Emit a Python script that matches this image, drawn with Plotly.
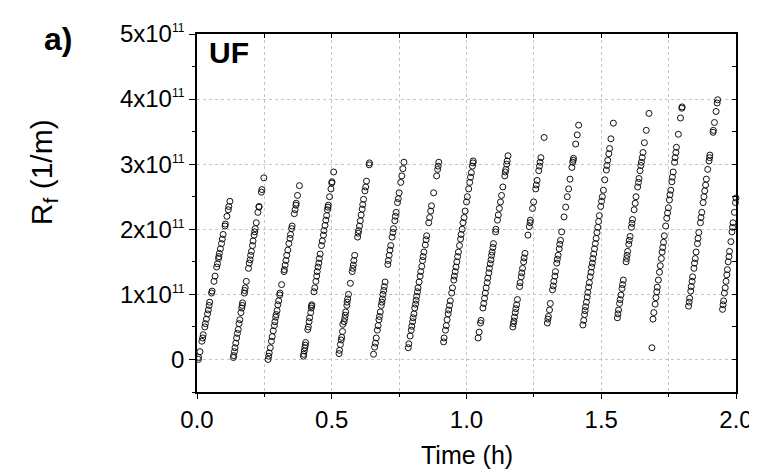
import plotly.graph_objects as go

# ---- data: filtration cycles, time (h) and Rf (units of 1e11 1/m) ----
t01 = [0.005,0.006,0.011,0.018,0.021,0.023,0.029,0.031,0.035,0.039,0.042,0.045,0.047,0.054,0.056,0.063,0.067,0.073,0.076,0.080,0.081,0.083,0.087,0.091,0.094,0.097,0.104,0.105,0.111,0.116,0.118,0.122]
rf01 = [0.00,0.03,0.12,0.28,0.33,0.38,0.50,0.55,0.62,0.70,0.76,0.83,0.88,1.02,1.05,1.20,1.28,1.42,1.47,1.55,1.58,1.63,1.70,1.78,1.85,1.92,2.05,2.08,2.20,2.30,2.35,2.43]
t02 = [0.135,0.136,0.139,0.141,0.144,0.147,0.150,0.153,0.156,0.159,0.163,0.166,0.168,0.169,0.176,0.177,0.179,0.183,0.191,0.194,0.197,0.199,0.202,0.206,0.208,0.212,0.214,0.216,0.220,0.226,0.230,0.230,0.239,0.241,0.248]
rf02 = [0.03,0.06,0.12,0.18,0.25,0.33,0.40,0.46,0.55,0.61,0.72,0.79,0.83,0.87,1.02,1.06,1.10,1.20,1.40,1.48,1.53,1.60,1.66,1.75,1.82,1.91,1.96,2.01,2.10,2.26,2.34,2.35,2.57,2.61,2.79]
t03 = [0.264,0.266,0.268,0.272,0.276,0.279,0.283,0.287,0.289,0.292,0.294,0.297,0.300,0.303,0.307,0.308,0.314,0.323,0.324,0.327,0.330,0.333,0.337,0.341,0.345,0.347,0.351,0.353,0.361,0.364,0.367,0.368,0.373,0.380]
rf03 = [0.00,0.05,0.10,0.18,0.28,0.35,0.44,0.52,0.58,0.65,0.69,0.75,0.84,0.90,0.99,1.02,1.15,1.35,1.38,1.45,1.52,1.60,1.68,1.78,1.86,1.92,2.01,2.05,2.24,2.30,2.37,2.40,2.52,2.67]
t04 = [0.395,0.396,0.398,0.400,0.402,0.403,0.411,0.413,0.416,0.418,0.422,0.424,0.425,0.426,0.434,0.437,0.441,0.444,0.446,0.449,0.452,0.454,0.457,0.462,0.465,0.469,0.471,0.475,0.478,0.481,0.484,0.486,0.487,0.492,0.497,0.500,0.501,0.507]
rf04 = [0.05,0.08,0.13,0.18,0.22,0.26,0.46,0.50,0.58,0.64,0.72,0.79,0.82,0.84,1.04,1.10,1.20,1.28,1.35,1.42,1.48,1.55,1.62,1.75,1.82,1.91,1.98,2.06,2.14,2.21,2.30,2.34,2.37,2.50,2.62,2.71,2.73,2.88]
t05 = [0.527,0.529,0.532,0.535,0.537,0.540,0.541,0.546,0.548,0.550,0.552,0.556,0.557,0.559,0.562,0.569,0.576,0.578,0.580,0.582,0.585,0.596,0.598,0.600,0.603,0.606,0.609,0.613,0.615,0.618,0.623,0.626,0.629,0.639,0.640]
rf05 = [0.09,0.14,0.23,0.30,0.34,0.43,0.54,0.58,0.63,0.68,0.73,0.83,0.88,0.93,1.00,1.17,1.35,1.40,1.45,1.52,1.60,1.88,1.94,1.98,2.05,2.13,2.22,2.31,2.38,2.46,2.59,2.65,2.74,2.99,3.02]
t06 = [0.655,0.659,0.662,0.665,0.669,0.672,0.675,0.677,0.680,0.684,0.686,0.688,0.690,0.693,0.695,0.698,0.708,0.710,0.713,0.716,0.719,0.724,0.727,0.729,0.734,0.736,0.739,0.744,0.747,0.750,0.756,0.760,0.764,0.768]
rf06 = [0.08,0.19,0.25,0.33,0.45,0.52,0.61,0.66,0.73,0.83,0.88,0.93,1.00,1.06,1.12,1.19,1.46,1.52,1.60,1.68,1.75,1.88,1.95,2.01,2.13,2.20,2.26,2.41,2.47,2.56,2.72,2.82,2.93,3.03]
t07 = [0.784,0.786,0.791,0.795,0.797,0.800,0.802,0.805,0.808,0.811,0.813,0.815,0.818,0.820,0.824,0.828,0.830,0.834,0.837,0.839,0.842,0.847,0.850,0.852,0.860,0.863,0.867,0.870,0.878,0.889,0.893,0.895,0.897]
rf07 = [0.18,0.24,0.36,0.45,0.51,0.58,0.64,0.70,0.79,0.85,0.91,0.97,1.04,1.10,1.19,1.28,1.35,1.43,1.52,1.58,1.65,1.76,1.84,1.90,2.10,2.18,2.28,2.36,2.56,2.82,2.92,2.97,3.03]
t08 = [0.915,0.917,0.922,0.925,0.928,0.932,0.934,0.937,0.940,0.945,0.948,0.953,0.955,0.958,0.961,0.964,0.967,0.970,0.974,0.978,0.980,0.984,0.987,0.991,0.995,1.000,1.003,1.008,1.012,1.015,1.018,1.022,1.024,1.025]
rf08 = [0.27,0.33,0.45,0.52,0.61,0.70,0.76,0.83,0.90,1.02,1.10,1.22,1.28,1.35,1.42,1.50,1.58,1.65,1.75,1.85,1.92,2.00,2.10,2.18,2.28,2.42,2.50,2.62,2.72,2.80,2.87,2.97,3.02,3.05]
t09 = [1.043,1.047,1.052,1.054,1.061,1.064,1.067,1.070,1.073,1.077,1.079,1.083,1.085,1.088,1.091,1.093,1.095,1.098,1.100,1.108,1.109,1.115,1.118,1.122,1.126,1.130,1.135,1.142,1.144,1.146,1.149,1.151,1.154]
rf09 = [0.33,0.42,0.56,0.60,0.79,0.86,0.94,1.02,1.10,1.18,1.25,1.33,1.40,1.47,1.53,1.60,1.65,1.72,1.78,1.96,2.00,2.14,2.22,2.32,2.42,2.52,2.65,2.82,2.88,2.92,3.00,3.05,3.13]
t10 = [1.172,1.174,1.176,1.178,1.181,1.183,1.186,1.189,1.197,1.199,1.203,1.205,1.208,1.212,1.214,1.217,1.228,1.233,1.236,1.237,1.245,1.249,1.257,1.259,1.262,1.268,1.271,1.273,1.276,1.288]
rf10 = [0.50,0.55,0.59,0.65,0.72,0.78,0.84,0.92,1.12,1.18,1.27,1.33,1.40,1.50,1.56,1.63,1.91,2.04,2.10,2.14,2.32,2.42,2.62,2.68,2.75,2.90,2.97,3.03,3.10,3.41]
t11 = [1.300,1.302,1.304,1.308,1.311,1.319,1.322,1.324,1.328,1.330,1.335,1.337,1.340,1.344,1.346,1.349,1.353,1.362,1.368,1.374,1.379,1.384,1.391,1.394,1.396,1.397,1.405,1.411,1.416]
rf11 = [0.56,0.62,0.66,0.76,0.86,1.07,1.13,1.20,1.28,1.35,1.48,1.54,1.60,1.70,1.77,1.83,1.96,2.19,2.34,2.50,2.62,2.77,2.95,3.03,3.06,3.09,3.31,3.45,3.60]
t12 = [1.432,1.435,1.438,1.440,1.442,1.445,1.448,1.450,1.453,1.456,1.459,1.462,1.464,1.467,1.469,1.472,1.475,1.478,1.481,1.484,1.487,1.490,1.493,1.498,1.501,1.504,1.508,1.513,1.519,1.521,1.524,1.528,1.531,1.536,1.545]
rf12 = [0.53,0.60,0.69,0.75,0.81,0.88,0.96,1.03,1.11,1.18,1.27,1.34,1.42,1.48,1.55,1.62,1.70,1.78,1.86,1.95,2.03,2.12,2.21,2.35,2.43,2.50,2.60,2.76,2.91,2.98,3.06,3.16,3.24,3.39,3.63]
t13 = [1.560,1.562,1.564,1.568,1.570,1.573,1.577,1.579,1.582,1.592,1.594,1.596,1.598,1.602,1.604,1.607,1.612,1.614,1.616,1.622,1.626,1.629,1.635,1.638,1.640,1.644,1.647,1.649,1.652,1.655,1.660,1.667,1.677]
rf13 = [0.64,0.70,0.76,0.86,0.92,0.99,1.09,1.15,1.22,1.50,1.55,1.60,1.66,1.77,1.83,1.89,2.03,2.09,2.15,2.30,2.40,2.50,2.65,2.72,2.78,2.90,2.98,3.03,3.10,3.18,3.33,3.52,3.78]
t14 = [1.688,1.692,1.695,1.700,1.703,1.706,1.708,1.712,1.716,1.719,1.723,1.726,1.728,1.731,1.734,1.739,1.743,1.746,1.749,1.753,1.755,1.758,1.762,1.764,1.767,1.772,1.774,1.777,1.779,1.786,1.794,1.799,1.800]
rf14 = [0.18,0.62,0.72,0.85,0.95,1.04,1.11,1.22,1.34,1.44,1.55,1.65,1.72,1.80,1.90,2.05,2.17,2.25,2.33,2.45,2.53,2.60,2.73,2.80,2.88,3.03,3.10,3.18,3.26,3.46,3.71,3.86,3.88]
t15 = [1.824,1.826,1.828,1.832,1.834,1.837,1.839,1.844,1.846,1.849,1.852,1.857,1.859,1.862,1.868,1.870,1.873,1.878,1.881,1.884,1.887,1.890,1.895,1.900,1.902,1.903,1.915,1.916,1.920,1.926,1.930,1.932]
rf15 = [0.82,0.88,0.94,1.05,1.12,1.20,1.27,1.40,1.48,1.55,1.65,1.78,1.86,1.95,2.10,2.18,2.26,2.41,2.50,2.59,2.68,2.77,2.92,3.05,3.10,3.14,3.49,3.52,3.64,3.81,3.94,3.99]
t16 = [1.950,1.952,1.954,1.957,1.960,1.963,1.966,1.968,1.971,1.974,1.976,1.981,1.985,1.987,1.989,1.994,1.998,2.000]
rf16 = [0.77,0.84,0.90,1.02,1.10,1.20,1.30,1.38,1.50,1.58,1.66,1.81,1.96,2.03,2.10,2.26,2.41,2.48]

x_ticks = [0.0, 0.5, 1.0, 1.5, 2.0]
x_ticktext = ["0.0", "0.5", "1.0", "1.5", "2.0"]
y_ticks = [0, 1e11, 2e11, 3e11, 4e11, 5e11]
y_ticktext = ["0"] + [f"{k}x10<sup><span style='font-size:12px'>11</span></sup>" for k in range(1, 6)]

times = t01 + t02 + t03 + t04 + t05 + t06 + t07 + t08 + t09 + t10 + t11 + t12 + t13 + t14 + t15 + t16
rf = rf01 + rf02 + rf03 + rf04 + rf05 + rf06 + rf07 + rf08 + rf09 + rf10 + rf11 + rf12 + rf13 + rf14 + rf15 + rf16
rf_abs = [v * 1e11 for v in rf]

FONT = "Liberation Sans, Arial, sans-serif"
GRID = "#c6c6c6"

fig = go.Figure()
fig.add_trace(go.Scatter(
    x=times, y=rf_abs, mode="markers", cliponaxis=False, showlegend=False,
    marker=dict(symbol="circle-open", size=6, color="#111111", line=dict(width=1, color="#111111")),
))
# dummy trace for mirrored top/right axes
fig.add_trace(go.Scatter(x=[None], y=[None], xaxis="x2", yaxis="y2", showlegend=False, hoverinfo="skip"))

fig.update_layout(
    width=757, height=473,
    margin=dict(l=189, r=23, t=24, b=89),
    paper_bgcolor="white", plot_bgcolor="white",
    font=dict(family=FONT, size=24, color="black"),
    xaxis=dict(
        range=[0, 2], tickmode="array", tickvals=x_ticks, ticktext=x_ticktext,
        ticks="outside", ticklen=5, tickwidth=1.2, tickcolor="black",
        showline=True, linecolor="black", linewidth=1.5,
        showgrid=True, gridcolor=GRID, griddash="dot", gridwidth=1,
        zeroline=False,
        minor=dict(tickvals=[0.25, 0.75, 1.25, 1.75], ticks="outside", ticklen=3, tickcolor="black",
                   showgrid=True, gridcolor=GRID, griddash="dot", gridwidth=1),
        tickfont=dict(size=24),
    ),
    yaxis=dict(
        range=[-0.5e11, 5e11], tickmode="array", tickvals=y_ticks, ticktext=y_ticktext,
        ticks="outside", ticklen=6, tickwidth=1.2, tickcolor="black",
        showline=True, linecolor="black", linewidth=1.5,
        showgrid=True, gridcolor=GRID, griddash="dot", gridwidth=1,
        zeroline=False,
        minor=dict(tickvals=[-0.5e11, 0.5e11, 1.5e11, 2.5e11, 3.5e11, 4.5e11], ticks="outside",
                   ticklen=3, tickcolor="black", showgrid=False),
        tickfont=dict(size=24),
    ),
    xaxis2=dict(
        overlaying="x", side="top", anchor="y", range=[0, 2],
        tickmode="array", tickvals=[0.25, 0.5, 0.75, 1.0, 1.25, 1.5, 1.75],
        ticks="inside", ticklen=4, tickwidth=1.2, tickcolor="black",
        showticklabels=False, showline=True, linecolor="black", linewidth=1.5,
        showgrid=False, zeroline=False,
    ),
    yaxis2=dict(
        overlaying="y", side="right", anchor="x", range=[-0.5e11, 5e11],
        tickmode="array", tickvals=[0, 0.5e11, 1e11, 1.5e11, 2e11, 2.5e11, 3e11, 3.5e11, 4e11, 4.5e11],
        ticks="inside", ticklen=4, tickwidth=1.2, tickcolor="black",
        showticklabels=False, showline=True, linecolor="black", linewidth=1.5,
        showgrid=False, zeroline=False,
    ),
    annotations=[
        dict(text="R<sub>f</sub> (1/m)", textangle=-90, xref="paper", yref="paper",
             x=-0.285, y=0.615, xanchor="center", yanchor="middle", showarrow=False,
             font=dict(size=30, family=FONT)),
        dict(text="Time (h)", xref="paper", yref="paper", x=0.5, y=-0.175,
             xanchor="center", yanchor="middle", showarrow=False, font=dict(size=25, family=FONT)),
        dict(text="<b>a)</b>", xref="paper", yref="paper", x=-0.258, y=0.985,
             xanchor="center", yanchor="middle", showarrow=False, font=dict(size=32, family=FONT)),
        dict(text="<b>UF</b>", xref="paper", yref="paper", x=0.018, y=0.948,
             xanchor="left", yanchor="middle", showarrow=False, font=dict(size=30, family=FONT)),
    ],
)

fig.write_html("out.html")
